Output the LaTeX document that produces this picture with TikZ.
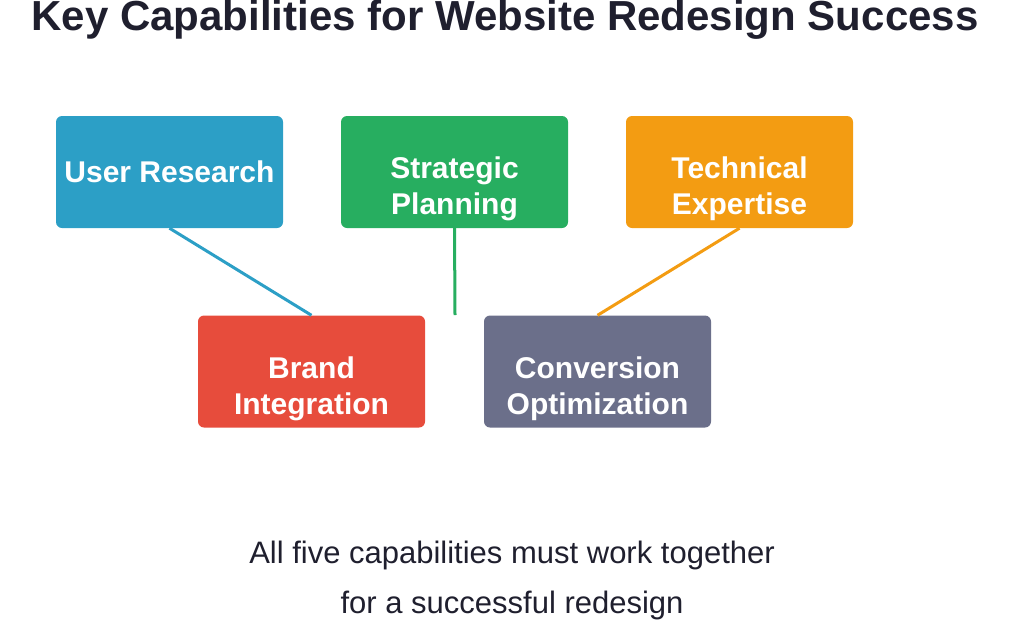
\documentclass[tikz,border=0pt]{standalone}
\usepackage{fontspec}
\setmainfont{Liberation Sans}
\definecolor{cblue}{HTML}{2C9FC6}
\definecolor{cgreen}{HTML}{27AE60}
\definecolor{corange}{HTML}{F39C12}
\definecolor{cred}{HTML}{E74C3C}
\definecolor{cgray}{HTML}{6B6F8A}
\definecolor{ink}{HTML}{1F1F2E}
\begin{document}
\begin{tikzpicture}[x=1pt, y=-1pt]
% Box and connector styles
\tikzset{
  capbox/.style={rounded corners=6pt, minimum width=227pt, minimum height=112pt},
  captext/.style={align=center, text=white, yshift=-17pt,
    font={\fontsize{30}{36}\selectfont\bfseries}},
  link/.style={line width=3pt}
}
\useasboundingbox (0,0) rectangle (1024,624);
% -------------------------------------------------
\node [font={\fontsize{42}{48}\selectfont\bfseries}, text=ink] (title) at (505,20)
  {Key Capabilities for Website Redesign Success};
\node [capbox, fill=cblue, label={[captext, yshift=17pt]center:User Research}] (user) at (169.5,172) {};
\node [capbox, fill=cgreen, label={[captext]center:{Strategic\\Planning}}] (strat) at (454.5,172) {};
\node [capbox, fill=corange, label={[captext]center:{Technical\\Expertise}}] (tech) at (739.5,172) {};
\node [capbox, fill=cred, label={[captext]center:{Brand\\Integration}}] (brand) at (311.5,371.5) {};
\node [capbox, fill=cgray, label={[captext]center:{Conversion\\Optimization}}] (conv) at (597.5,371.5) {};
\coordinate (mid) at (455,315);
% connectors
\draw [link, cblue] (user.south) -- (brand.north);
\draw [link, cgreen] (strat.south) -- (mid);
\draw [link, corange] (tech.south) -- (conv.north);
% -------------------------------------------------
\node [font={\fontsize{31}{50}\selectfont}, text=ink, align=center] (note) at (512,580)
  {All five capabilities must work together\\for a successful redesign};
\end{tikzpicture}
\end{document}
